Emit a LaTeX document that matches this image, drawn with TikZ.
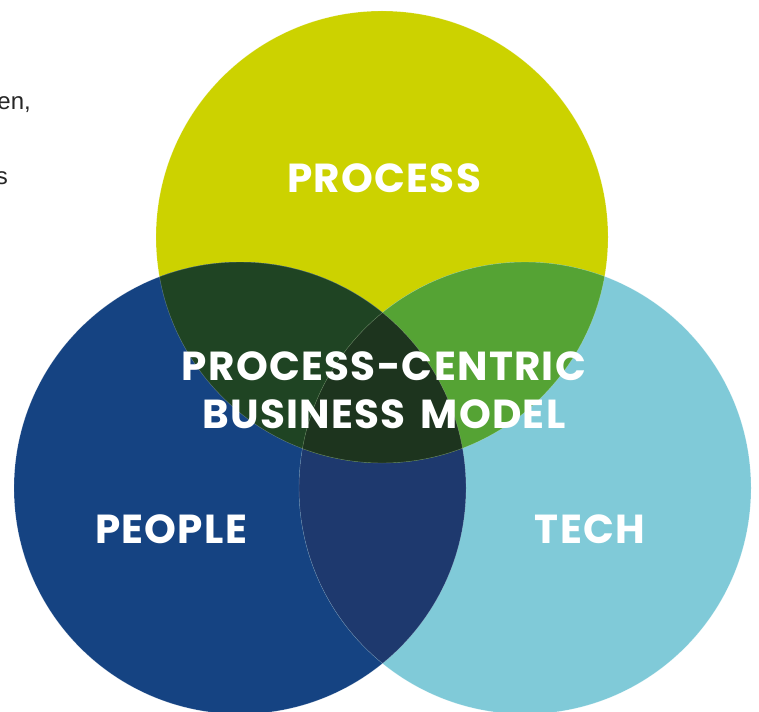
\documentclass[tikz,border=0pt]{standalone}
\usepackage{fontspec}
\setmainfont{Liberation Sans}
\newfontfamily\labelfont{Poppins}[LetterSpace=3.2, WordSpace=1.5]
\definecolor{processcol}{HTML}{CCD200}
\definecolor{peoplecol}{HTML}{154382}
\definecolor{techcol}{HTML}{80CAD8}
\definecolor{processpeople}{HTML}{1F4423}
\definecolor{processtech}{HTML}{55A334}
\definecolor{peopletech}{HTML}{1E396E}
\definecolor{centrecol}{HTML}{1D341E}
\tikzset{
  labeltext/.style={text=white, inner sep=0pt, align=center,
    font=\labelfont\bfseries\fontsize{40.5}{48}\selectfont},
  bodytext/.style={text=black!85, inner sep=0pt, font=\fontsize{24}{28}\selectfont},
  seam/.style={white, opacity=0.3, line width=0.4pt},
}
\begin{document}
\begin{tikzpicture}[x=1pt,y=-1pt]
\useasboundingbox (0,0) rectangle (759,711);
\clip (0,0) rectangle (759,711);
%中心
\coordinate (Top) at (382,237);
\coordinate (Lft) at (240,488);
\coordinate (Rgt) at (525,488);

%円
\fill[processcol] (Top) circle (226pt);
\fill[peoplecol] (Lft) circle (226pt);
\fill[techcol] (Rgt) circle (226pt);

%重なり
\begin{scope}
  \clip (Lft) circle (226pt);
  \fill[peopletech] (Rgt) circle (226pt);
\end{scope}
\begin{scope}
  \clip (Top) circle (226pt);
  \fill[processpeople] (Lft) circle (226pt);
  \fill[processtech] (Rgt) circle (226pt);
  \clip (Lft) circle (226pt);
  \fill[centrecol] (Rgt) circle (226pt);
\end{scope}
\draw[seam] (Top) circle (226pt);
\draw[seam] (Lft) circle (226pt);
\draw[seam] (Rgt) circle (226pt);

%ラベル
\node[labeltext] (process) at (384,178.5) {PROCESS};
\node[labeltext] (people) at (171,529) {PEOPLE};
\node[labeltext] (tech) at (590,529) {TECH};
\node[labeltext] (model) at (384,390) {PROCESS-CENTRIC\\BUSINESS MODEL};

%左の文
\node[bodytext, anchor=base east] (line1) at (31,110) {en,};
\node[bodytext, anchor=base east] (line2) at (8,185) {s};
\end{tikzpicture}
\end{document}
